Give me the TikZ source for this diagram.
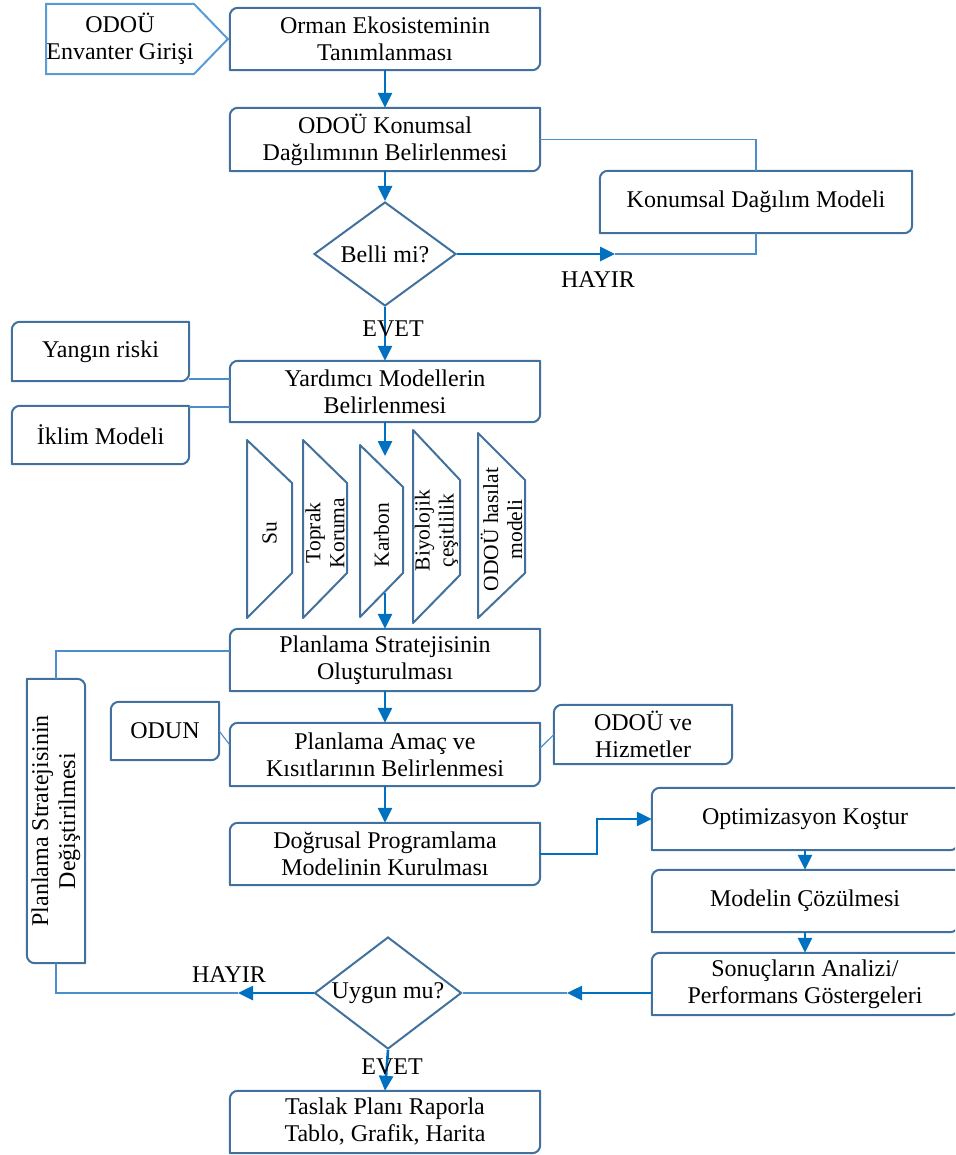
\documentclass[tikz,border=0pt]{standalone}
\usepackage{fontspec}
\setmainfont{Liberation Serif}
\usetikzlibrary{shapes.geometric,arrows.meta}

\definecolor{frameblue}{HTML}{41719C}
\definecolor{arrowblue}{HTML}{0070C0}
\definecolor{thinblue}{HTML}{4C8DCB}
\definecolor{lightblue}{HTML}{5B9BD5}

\tikzset{
  frame/.style={draw=frameblue, line width=2pt, line join=round},
  stepbox/.style={inner sep=0pt, align=center, font=\fontsize{24}{27}\selectfont},
  decision/.style={shape=diamond, draw=frameblue, line width=2pt, inner sep=0pt, aspect=1.4,
    font=\fontsize{24}{27}\selectfont},
  lbl/.style={inner sep=0pt, font=\fontsize{24}{27}\selectfont},
  traptext/.style={inner sep=0pt, align=center, rotate=90, font=\fontsize{21.5}{24}\selectfont},
  arr/.style={draw=arrowblue, line width=2.6pt, -{Triangle[length=15pt,width=14pt]}},
  thinline/.style={draw=thinblue, line width=1.1pt},
}

% frame with rounded top-left and bottom-right corners
\newcommand\rdframe[1]{\draw[frame] (#1.north east) -- ([xshift=8pt]#1.north west)
  arc[start angle=90,end angle=180,radius=8pt] -- (#1.south west)
  -- ([xshift=-8pt]#1.south east) arc[start angle=270,end angle=360,radius=8pt] -- cycle;}
% frame with rounded top-right and bottom-left corners
\newcommand\rdframev[1]{\draw[frame] (#1.north west) -- ([xshift=-8pt]#1.north east)
  arc[start angle=90,end angle=0,radius=8pt] -- (#1.south east)
  -- ([xshift=8pt]#1.south west) arc[start angle=270,end angle=180,radius=8pt] -- cycle;}
% slanted panel: name, x left, x right, y top-left, y bottom-left, y top-right, y bottom-right, text
\newcommand\trapz[8]{%
  \draw[frame] (#2,#4) -- (#3,#6) -- (#3,#7) -- (#2,#5) -- cycle;
  \node[traptext] (#1) at ({(#2+#3)/2},{(#4+#5)/2+4}) {#8};}

\begin{document}
\begin{tikzpicture}[x=1pt,y=-1pt]
\useasboundingbox (0,0) rectangle (955,1155);
\clip (0,0) rectangle (955,1155);

% input pentagon
\node[stepbox, minimum width=143pt, minimum height=70pt] (inp) at (120,39) {ODOÜ\\Envanter Girişi};
\draw[draw=lightblue, line width=2pt, line join=miter] (inp.north west) -- (inp.north east)
  -- ([xshift=34pt]inp.east) -- (inp.south east) -- (inp.south west) -- cycle;

% main column
\node[stepbox, minimum width=310pt, minimum height=62pt] (b1) at (385,39) {Orman Ekosisteminin\\Tanımlanması};
\node[stepbox, minimum width=310pt, minimum height=63pt] (b2) at (385,139.5) {ODOÜ Konumsal\\Dağılımının Belirlenmesi};
\node[decision, minimum width=142pt, minimum height=104pt] (d1) at (385,254) {Belli mi?};
\node[stepbox, minimum width=312pt, minimum height=62pt] (km) at (756,202) {Konumsal Dağılım Modeli};
\node[stepbox, minimum width=310pt, minimum height=61pt] (b3) at (385,391.5) {Yardımcı Modellerin\\Belirlenmesi};
\node[stepbox, minimum width=177pt, minimum height=59pt] (yr) at (100.5,351.5) {Yangın riski};
\node[stepbox, minimum width=177pt, minimum height=58pt] (ik) at (100.5,435) {İklim Modeli};

\node[stepbox, minimum width=310pt, minimum height=62pt] (b4) at (385,660) {Planlama Stratejisinin\\Oluşturulması};
\node[stepbox, minimum width=58pt, minimum height=284pt] (vb) at (56,821) {};
\node[stepbox, rotate=90] (vbt) at (vb.center) {Planlama Stratejisinin\\Değiştirilmesi};
\node[stepbox, minimum width=108pt, minimum height=58pt] (od) at (165,731) {ODUN};
\node[stepbox, minimum width=310pt, minimum height=63pt] (b5) at (385,754.5) {Planlama Amaç ve\\Kısıtlarının Belirlenmesi};
\node[stepbox, minimum width=178pt, minimum height=59pt] (hz) at (643,734.5) {ODOÜ ve\\Hizmetler};
\node[stepbox, minimum width=310pt, minimum height=62pt] (b6) at (385,854) {Doğrusal Programlama\\Modelinin Kurulması};
\node[stepbox, minimum width=306pt, minimum height=62pt] (b7) at (805,819) {Optimizasyon Koştur};
\node[stepbox, minimum width=306pt, minimum height=62pt] (b8) at (805,901) {Modelin Çözülmesi};
\node[stepbox, minimum width=306pt, minimum height=62pt] (b9) at (805,984) {Sonuçların Analizi/\\Performans Göstergeleri};
\node[decision, minimum width=147pt, minimum height=112pt] (d2) at (388,993) {Uygun mu?};
\node[stepbox, minimum width=310pt, minimum height=62pt] (b10) at (385,1122) {Taslak Planı Raporla\\Tablo, Grafik, Harita};

\foreach \n in {b1,b2,km,b3,yr,ik,b4,od,b5,hz,b6,b7,b8,b9,b10} {\rdframe{\n}}
\rdframev{vb}

% ecosystem service panels
\trapz{su}{247}{292}{440}{618}{483}{573}{Su}
\trapz{tk}{303}{347}{440}{618}{483}{573}{Toprak\\Koruma}
\trapz{kb}{360}{403}{445}{617}{487}{573}{Karbon}
\trapz{bc}{413}{460}{430}{623}{480}{575}{Biyolojik\\çeşitlilik}
\trapz{oh}{478}{525}{433}{618}{480}{573}{ODOÜ hasılat\\modeli}

% helper points
\coordinate (hy) at (615,254);
\coordinate (y1) at (0,379);
\coordinate (i1) at (0,407);
\coordinate (kT) at (385,456);
\coordinate (kB) at (385,593);
\coordinate (p1) at (0,651);
\coordinate (o2) at (0,745);
\coordinate (h2) at (0,748);
\coordinate (bx) at (597,0);
\coordinate (hn) at (238,993);
\coordinate (sn) at (567,993);

% thin links
\draw[thinline] (b2.east) -| (km.north);
\draw[thinline] (hy) -| (km.south);
\draw[thinline] (yr.east |- y1) -- (b3.west |- y1);
\draw[thinline] (ik.east |- i1) -- (b3.west |- i1);
\draw[thinline] (b4.west |- p1) -| (vb.north);
\draw[thinline] (vb.south) |- (hn);
\draw[thinline] (od.east) -- (b5.west |- o2);
\draw[thinline] (b5.east |- h2) -- (hz.west);
\draw[thinline] (sn) -- (d2.east);

% arrows
\draw[arr] (b1.south) -- (b2.north);
\draw[arr] (b2.south) -- (d1.north);
\draw[arr] (d1.east) -- (hy);
\draw[arr] (d1.south) -- (b3.north);
\draw[arr] (b3.south) -- (kT);
\draw[arr] (kB) -- (b4.north);
\draw[arr] (b4.south) -- (b5.north);
\draw[arr] (b5.south) -- (b6.north);
\draw[arr] (b6.east) -- (b6.east -| bx) |- (b7.west);
\draw[arr] (b7.south) -- (b8.north);
\draw[arr] (b8.south) -- (b9.north);
\draw[arr] (b9.west |- sn) -- (sn);
\draw[arr] (d2.west) -- (hn);
\draw[arr] (d2.south) -- (b10.north);

% branch labels
\node[lbl] (hay1) at (598,280) {HAYIR};
\node[lbl] (evt1) at (393,329) {EVET};
\node[lbl] (hay2) at (229,975) {HAYIR};
\node[lbl] (evt2) at (392,1067) {EVET};
\end{tikzpicture}
\end{document}
